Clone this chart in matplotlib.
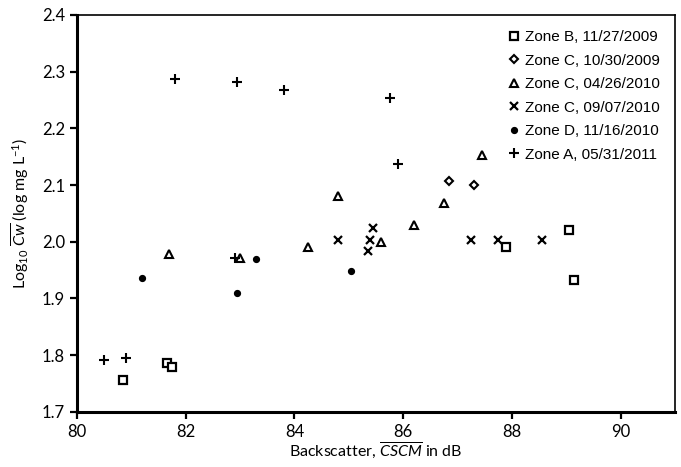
import matplotlib
matplotlib.use('Agg')
import matplotlib.pyplot as plt

plt.rcParams['font.family'] = ['Lato', 'DejaVu Sans']
plt.rcParams['mathtext.fontset'] = 'custom'
plt.rcParams['mathtext.rm'] = 'Lato'
plt.rcParams['mathtext.it'] = 'Lato:italic'

# data
zone_b_x = [80.85, 81.65, 81.75, 87.9, 89.05, 89.15]
zone_b_y = [1.757, 1.786, 1.779, 1.991, 2.020, 1.933]

zone_c09_x = [86.85, 87.3]
zone_c09_y = [2.107, 2.100]

zone_c10a_x = [81.7, 83.0, 84.25, 84.8, 85.6, 86.2, 86.75, 87.45]
zone_c10a_y = [1.978, 1.971, 1.991, 2.080, 2.000, 2.030, 2.068, 2.153]

zone_c10b_x = [84.8, 85.35, 85.4, 85.45, 87.25, 87.75, 88.55]
zone_c10b_y = [2.004, 1.983, 2.004, 2.025, 2.004, 2.004, 2.004]

zone_d_x = [81.2, 82.95, 83.3, 85.05]
zone_d_y = [1.936, 1.909, 1.970, 1.948]

zone_a_x = [80.5, 80.9, 81.8, 82.95, 83.8, 85.75, 85.9, 82.9]
zone_a_y = [1.792, 1.795, 2.287, 2.282, 2.268, 2.254, 2.137, 1.971]

fig = plt.figure(figsize=(6.81, 4.67), dpi=100)
ax = fig.add_axes([0.113, 0.118, 0.878, 0.850])

kw = dict(color='black', linestyle='none')
ax.plot(zone_b_x, zone_b_y, marker='s', markersize=5.5, markerfacecolor='white',
        markeredgewidth=1.6, label='Zone B, 11/27/2009', **kw)
ax.plot(zone_c09_x, zone_c09_y, marker='D', markersize=4.5, markerfacecolor='white',
        markeredgewidth=1.5, label='Zone C, 10/30/2009', **kw)
ax.plot(zone_c10a_x, zone_c10a_y, marker='^', markersize=5.5, markerfacecolor='white',
        markeredgewidth=1.5, label='Zone C, 04/26/2010', **kw)
ax.plot(zone_c10b_x, zone_c10b_y, marker='x', markersize=5.5,
        markeredgewidth=1.6, label='Zone C, 09/07/2010', **kw)
ax.plot(zone_d_x, zone_d_y, marker='o', markersize=4.2,
        label='Zone D, 11/16/2010', **kw)
ax.plot(zone_a_x, zone_a_y, marker='+', markersize=6.5,
        markeredgewidth=1.5, label='Zone A, 05/31/2011', **kw)

ax.set_xlim(80, 91)
ax.set_ylim(1.7, 2.4)
ax.set_xticks([80, 82, 84, 86, 88, 90])
ax.set_yticks([1.7, 1.8, 1.9, 2.0, 2.1, 2.2, 2.3, 2.4])
ax.set_yticklabels(['1.7', '1.8', '1.9', '2.0', '2.1', '2.2', '2.3', '2.4'])
ax.tick_params(direction='out', length=5, width=1.6, labelsize=12)

for s in ['left', 'bottom']:
    ax.spines[s].set_linewidth(2.2)
for s in ['top', 'right']:
    ax.spines[s].set_linewidth(1.2)

ax.set_xlabel(r'Backscatter, $\overline{\mathit{CSCM}}$ in dB', fontsize=11.5, labelpad=1)
ax.set_ylabel(r'Log$_{10}$ $\overline{\mathit{Cw}}$ (log mg L$^{-1}$)', fontsize=11.5, labelpad=8)

leg = ax.legend(loc='upper right', frameon=False, handletextpad=0.1, handlelength=1.2,
                labelspacing=0.62, borderaxespad=0.6,
                prop={'family': 'Liberation Sans', 'size': 11})

fig.savefig('out.png', dpi=100)
